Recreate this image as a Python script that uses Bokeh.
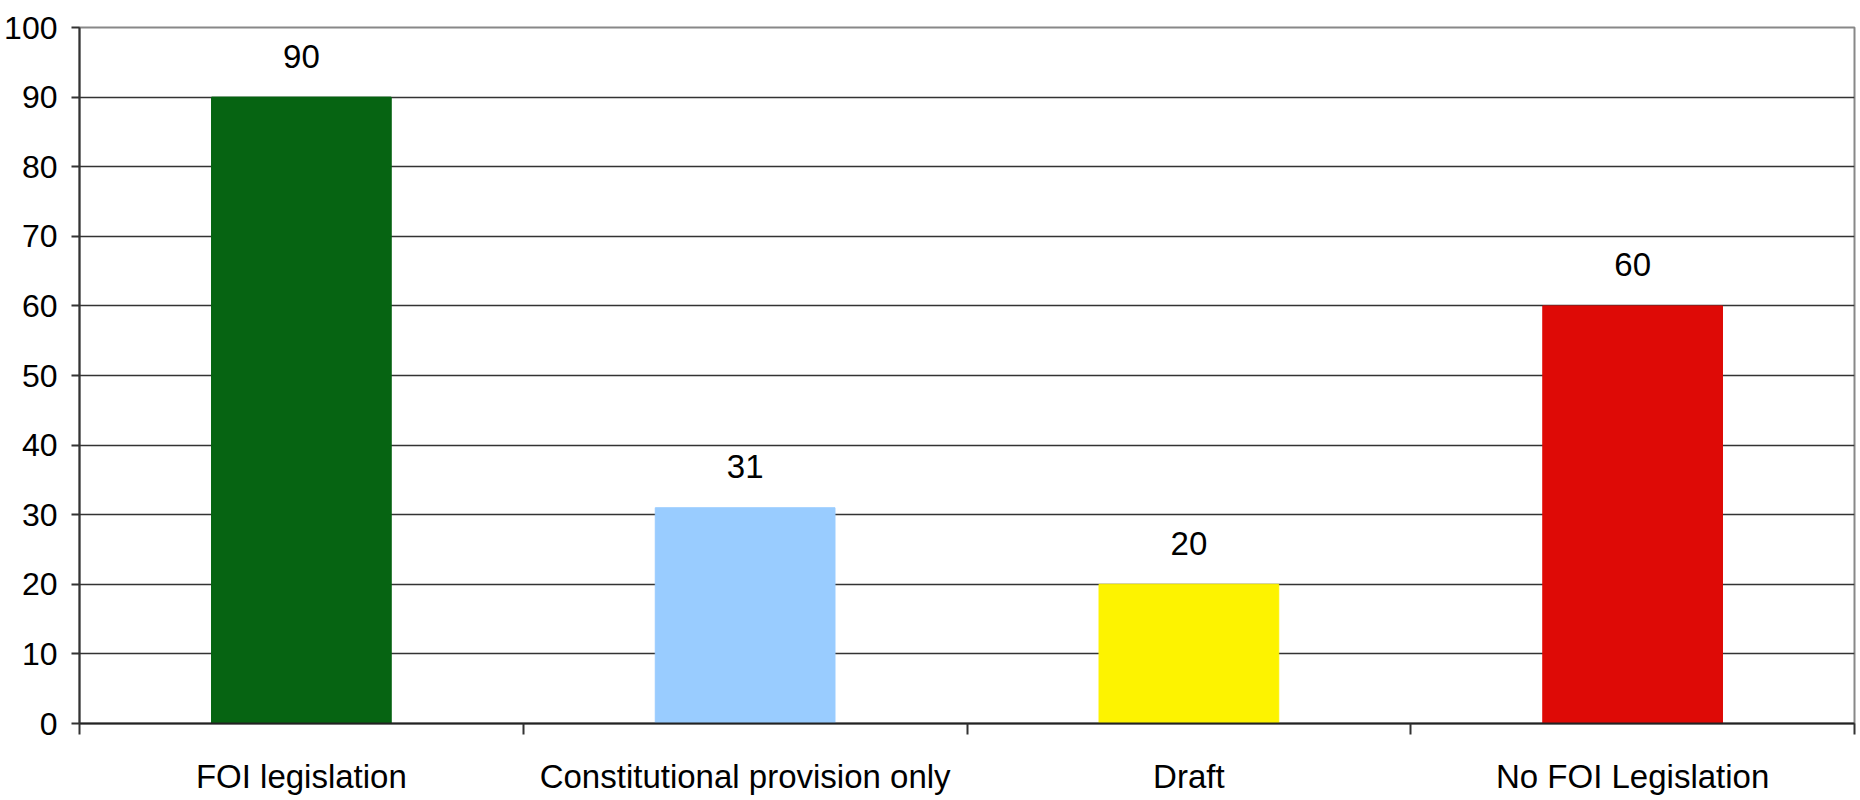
from bokeh.plotting import figure
from bokeh.models import FixedTicker, ColumnDataSource, Range1d
from bokeh.core.properties import value
from bokeh.embed import file_html
from bokeh.resources import INLINE

categories = ["FOI legislation", "Constitutional provision only", "Draft", "No FOI Legislation"]
counts = [90, 31, 20, 60]
colors = ["#066412", "#99ccff", "#fdf300", "#de0a06"]
y_ticks = [0, 10, 20, 30, 40, 50, 60, 70, 80, 90, 100]

FONT = "Liberation Sans"

centers = [i + 0.5 for i in range(len(categories))]
src = ColumnDataSource(dict(x=centers, top=counts, color=colors,
                            label=[str(v) for v in counts]))

p = figure(width=1860, height=800, output_backend="svg", toolbar_location=None,
           x_range=Range1d(0, len(categories)), y_range=Range1d(0, 100),
           min_border_left=79, min_border_right=6, min_border_top=27, min_border_bottom=77)

p.vbar(x="x", top="top", bottom=0, width=0.405, color="color", source=src)
p.text(x="x", y="top", text="label", source=src, text_align="center",
       text_baseline="alphabetic", y_offset=-41, text_font=value(FONT),
       text_font_size="33px", text_color="#000000")

# y axis
p.yaxis.ticker = FixedTicker(ticks=y_ticks, minor_ticks=[])
p.yaxis.major_label_text_font = FONT
p.yaxis.major_label_text_font_size = "32px"
p.yaxis.major_label_text_color = "#000000"
p.yaxis.major_tick_out = 8
p.yaxis.major_tick_in = 0
p.yaxis.major_tick_line_color = "#333333"
p.yaxis.major_tick_line_width = 2
p.yaxis.axis_line_color = "#333333"
p.yaxis.axis_line_width = 2
p.yaxis.major_label_standoff = 14

# x axis: boundary ticks as minor ticks, labels at centres
bounds = list(range(len(categories) + 1))
p.xaxis.ticker = FixedTicker(ticks=centers, minor_ticks=bounds)
p.xaxis.major_label_overrides = {c: lab for c, lab in zip(centers, categories)}
p.xaxis.major_tick_out = 0
p.xaxis.major_tick_in = 0
p.xaxis.minor_tick_out = 11
p.xaxis.minor_tick_in = 0
p.xaxis.minor_tick_line_color = "#333333"
p.xaxis.minor_tick_line_width = 2
p.xaxis.axis_line_color = "#222222"
p.xaxis.axis_line_width = 2
p.xaxis.major_label_text_font = FONT
p.xaxis.major_label_text_font_size = "33px"
p.xaxis.major_label_text_color = "#000000"
p.xaxis.major_label_standoff = 23

p.xgrid.grid_line_color = None
p.ygrid.ticker = FixedTicker(ticks=y_ticks[1:-1])
p.ygrid.grid_line_color = "#333333"
p.ygrid.grid_line_width = 1.5

p.outline_line_color = "#888888"
p.outline_line_width = 2
p.background_fill_color = "#ffffff"
p.border_fill_color = "#ffffff"

open("out.html", "w").write(file_html(p, INLINE))
